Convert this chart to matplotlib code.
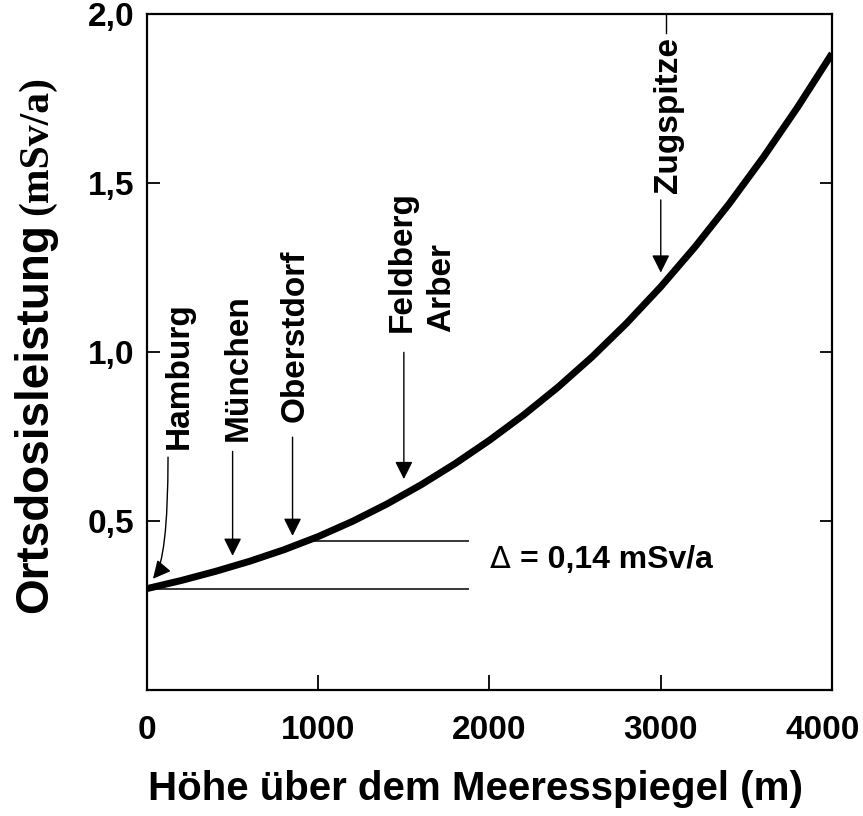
import matplotlib
matplotlib.use("Agg")
import matplotlib.pyplot as plt
from matplotlib.transforms import ScaledTranslation

plt.rcParams['font.family'] = ['Liberation Sans', 'DejaVu Sans']
plt.rcParams['font.weight'] = 'bold'

# curve (m, mSv/a)
hoehe = [0, 200, 400, 600, 800, 1000, 1200, 1400, 1600, 1800, 2000,
         2200, 2400, 2600, 2800, 3000, 3200, 3400, 3600, 3800, 4000]
dosis = [0.300, 0.324, 0.351, 0.381, 0.415, 0.454, 0.499, 0.550, 0.607,
         0.670, 0.739, 0.814, 0.896, 0.986, 1.085, 1.193, 1.311, 1.439,
         1.577, 1.725, 1.883]

x_ticks = [0, 1000, 2000, 3000, 4000]
x_labels = ['0', '1000', '2000', '3000', '4000']
y_ticks = [0.5, 1.0, 1.5, 2.0]
y_labels = ['0,5', '1,0', '1,5', '2,0']

# reference levels for the delta
delta_low = 0.30
delta_high = 0.44
delta_text = '= 0,14 mSv/a'

# places with arrow tip (height, dose)
orte = ['Hamburg', 'München', 'Oberstdorf', 'Feldberg', 'Zugspitze']
orte_x = [35, 500, 850, 1500, 3000]
orte_tip = [0.329, 0.397, 0.456, 0.624, 1.235]

fig = plt.figure(figsize=(8.63, 8.16), dpi=100)
ax = fig.add_axes([0.1703, 0.1544, 0.7938, 0.8284])

ax.plot(hoehe, dosis, color='k', lw=5, solid_capstyle='butt', zorder=3)
ax.hlines(delta_low, 0, 1880, color='k', lw=1.1)
ax.hlines(delta_high, 930, 1880, color='k', lw=1.1)

ax.set_xlim(0, 4000)
ax.set_ylim(0, 2.0)
ax.set_xticks(x_ticks, x_labels)
ax.set_yticks(y_ticks, y_labels)
ax.tick_params(axis='x', direction='in', length=11, width=1.3,
               labelsize=24, pad=18)
ax.tick_params(axis='y', direction='in', length=9, width=1.3,
               labelsize=24, pad=9, right=True)
for s in ax.spines.values():
    s.set_linewidth(1.6)
# last x label sits a bit left so it stays inside the picture
last = ax.get_xticklabels()[-1]
last.set_transform(last.get_transform() +
                   ScaledTranslation(-7 / 72, 0, fig.dpi_scale_trans))

arrow = dict(arrowstyle='-|>,head_length=0.4,head_width=0.2',
             mutation_scale=27, lw=1, color='k', shrinkA=0, shrinkB=0)

# Hamburg (curved arrow)
ax.annotate('', xy=(orte_x[0], orte_tip[0]), xytext=(123, 0.689),
            arrowprops=dict(arrow, connectionstyle='angle3,angleA=90,angleB=50'))
ax.annotate('', xy=(orte_x[1], orte_tip[1]), xytext=(500, 0.706), arrowprops=arrow)
ax.annotate('', xy=(orte_x[2], orte_tip[2]), xytext=(850, 0.748), arrowprops=arrow)
ax.annotate('', xy=(orte_x[3], orte_tip[3]), xytext=(1500, 0.999), arrowprops=arrow)
ax.annotate('', xy=(orte_x[4], orte_tip[4]), xytext=(3000, 1.45), arrowprops=arrow)
ax.plot([3030, 3030], [2.0, 1.943], color='k', lw=1)

lab = dict(rotation=90, rotation_mode='anchor', ha='left', va='baseline',
           fontsize=24, fontweight='bold')
ax.text(240, 0.712, orte[0], **lab)
ax.text(585, 0.736, orte[1], **lab)
ax.text(912, 0.792, orte[2], **lab)
ax.text(1543, 1.06, orte[3], **lab)
ax.text(1771, 1.06, 'Arber', **lab)
ax.text(3092, 1.47, orte[4], **lab)

ax.text(2000, 0.361, 'Δ', fontsize=22, fontweight='normal',
        family='DejaVu Sans', va='baseline')
ax.text(2180, 0.361, delta_text, fontsize=23, fontweight='bold', va='baseline')

ax.set_xlabel('Höhe über dem Meeresspiegel (m)', fontsize=29,
              fontweight='bold', va='top')
ax.xaxis.set_label_coords(0.48, -0.118)

# y label: sans part plus serif unit
t1 = ax.text(-0.146, 0.114, 'Ortsdosisleistung', transform=ax.transAxes,
             rotation=90, rotation_mode='anchor', ha='left', va='baseline',
             fontsize=33, fontweight='bold')
fig.canvas.draw()
bb = t1.get_window_extent().transformed(ax.transAxes.inverted())
ax.text(-0.146, bb.y1 + 0.012, '(mSv/a)', transform=ax.transAxes,
        rotation=90, rotation_mode='anchor', ha='left', va='baseline',
        fontsize=30, fontweight='bold', family='Liberation Serif')

fig.savefig('out.png', dpi=100)
